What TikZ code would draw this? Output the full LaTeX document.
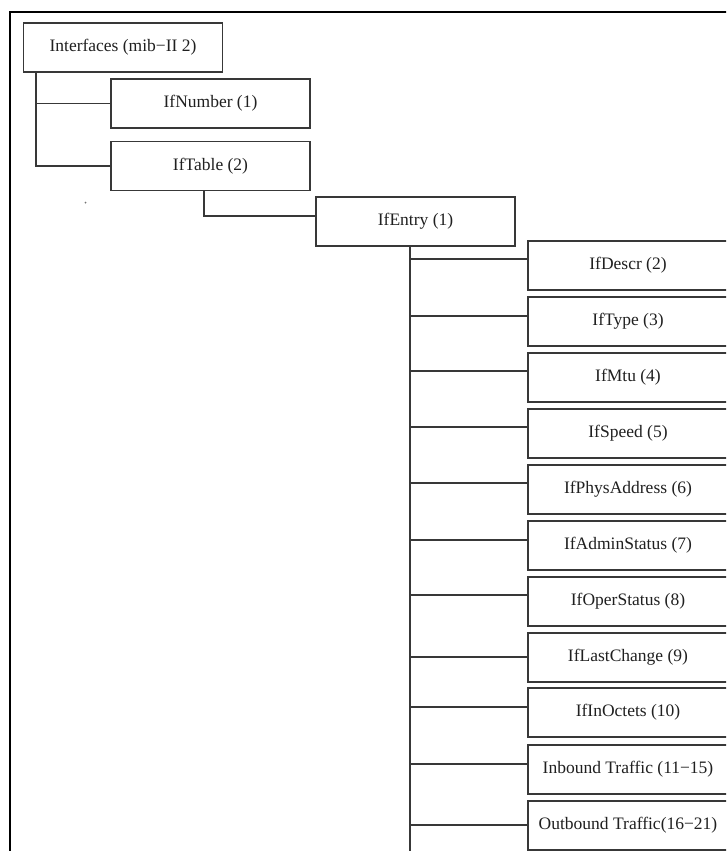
\documentclass[tikz,border=0pt]{standalone}
\usepackage{fontspec}
\setmainfont{Liberation Serif}
\usetikzlibrary{calc}
\definecolor{edge}{HTML}{383838}
\definecolor{ink}{HTML}{202020}
\begin{document}
\begin{tikzpicture}[x=1pt,y=-1pt,
  mibbox/.style={draw=edge,line width=1.6pt,fill=white,rectangle,
    minimum width=199pt,minimum height=49pt,inner sep=0pt,
    text=ink,font=\fontsize{17.5}{20}\selectfont},
  link/.style={draw=edge,line width=1.4pt},
  frame/.style={draw=black,line width=2.6pt}]
\useasboundingbox (0,0) rectangle (726,851);
\clip (0,0) rectangle (726,851);

% outer frame (top and left rules)
\draw[frame] (9,12) -- (728,12);
\draw[frame] (10,12) -- (10,853);

% upper levels
\node[mibbox] (iface) at (123,47.5) {Interfaces (mib−II 2)};
\node[mibbox] (ifnum) at (210.5,103.5) {IfNumber (1)};
\node[mibbox] (iftab) at (210.5,166) {IfTable (2)};
\node[mibbox] (entry) at (415.5,221.5) {IfEntry (1)};

% ifEntry columns
\begin{scope}[every node/.style={mibbox,minimum width=200pt}]
\node (c2)  at (628,265.5) {IfDescr (2)};
\node (c3)  at (628,321.5) {IfType (3)};
\node (c4)  at (628,377.5) {IfMtu (4)};
\node (c5)  at (628,433.5) {IfSpeed (5)};
\node (c6)  at (628,489.5) {IfPhysAddress (6)};
\node (c7)  at (628,545.5) {IfAdminStatus (7)};
\node (c8)  at (628,601.5) {IfOperStatus (8)};
\node (c9)  at (628,657.5) {IfLastChange (9)};
\node (c10) at (628,712.5) {IfInOctets (10)};
\node (c11) at (628,769.5) {Inbound Traffic (11−15)};
\node (c12) at (628,825.5) {Outbound Traffic(16−21)};
\end{scope}

% tree connectors
\coordinate (t0) at (36,0);
\draw[link] (iface.south -| t0) |- (ifnum.west);
\draw[link] (iface.south -| t0) |- (iftab.west);

\coordinate (t1) at (204,0);
\draw[link] (iftab.south -| t1) |- ([yshift=5.5pt]entry.west);

\coordinate (t2) at (410,0);
\coordinate (tend) at (410,853);
\draw[link] (entry.south -| t2) -- (tend);
\foreach \n/\d in {c2/6.5,c3/5.5,c4/6.5,c5/6.5,c6/6.5,c7/5.5,c8/6.5,c9/0.5,c10/5.5,c11/5.5,c12/0.5}{
  \draw[link] ([yshift=\d pt]\n.west -| t2) -- ([yshift=\d pt]\n.west);
}

% small stray mark left of IfTable
\fill[edge!70] (85.5,202.5) circle (1pt);
\end{tikzpicture}
\end{document}
